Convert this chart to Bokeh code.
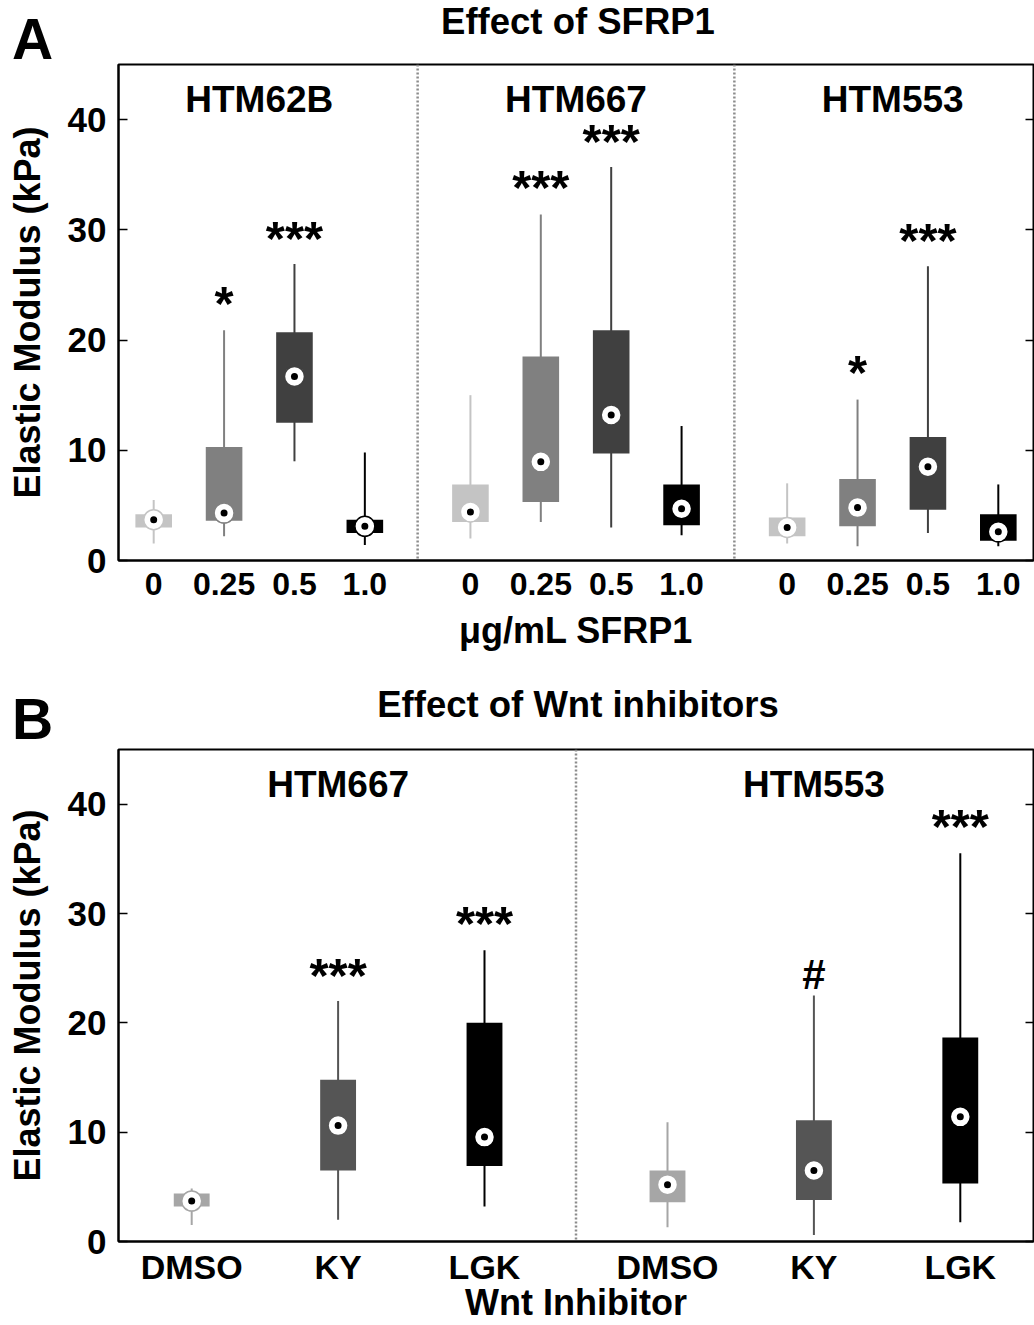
from bokeh.plotting import figure
from bokeh.models import Range1d, FixedTicker, LinearAxis, Span, ColumnDataSource, Div
from bokeh.layouts import column
from bokeh.core.properties import value
from bokeh.embed import file_html
from bokeh.resources import INLINE

FONT = "Liberation Sans"

# ---------------- Panel A data ----------------
a_title = "Effect of SFRP1"
a_groups = ["HTM62B", "HTM667", "HTM553"]
a_doses = ["0", "0.25", "0.5", "1.0"]
a_colors = ["#c4c4c4", "#808080", "#404040", "#000000"]
a_whisk_lo = [1.55, 2.2, 9.0, 1.4, 2.0, 3.5, 3.0, 2.3, 1.55, 1.3, 2.5, 1.3]
a_q1 = [3.0, 3.6, 12.5, 2.5, 3.5, 5.3, 9.7, 3.2, 2.2, 3.1, 4.6, 1.8]
a_median = [3.7, 4.3, 16.7, 3.1, 4.4, 8.95, 13.2, 4.7, 3.0, 4.8, 8.5, 2.6]
a_q3 = [4.2, 10.3, 20.7, 3.7, 6.9, 18.5, 20.9, 6.9, 3.9, 7.4, 11.2, 4.2]
a_whisk_hi = [5.5, 20.9, 26.9, 9.8, 15.0, 31.4, 35.7, 12.2, 7.0, 14.6, 26.7, 6.9]
# significance marks: (group index, dose index, text, y of mark centre)
a_marks = [(0, 1, "*", 23.8), (0, 2, "***", 29.7),
           (1, 1, "***", 34.3), (1, 2, "***", 38.5),
           (2, 1, "*", 17.5), (2, 2, "***", 29.5)]
a_xlabel = "\u03bcg/mL SFRP1"

# ---------------- Panel B data ----------------
b_title = "Effect of Wnt inhibitors"
b_groups = ["HTM667", "HTM553"]
b_treat = ["DMSO", "KY", "LGK"]
b_colors = ["#a6a6a6", "#555555", "#000000"]
b_whisk_lo = [1.5, 2.0, 3.2, 1.3, 0.6, 1.75]
b_q1 = [3.2, 6.5, 6.9, 3.6, 3.8, 5.3]
b_median = [3.7, 10.6, 9.55, 5.2, 6.5, 11.4]
b_q3 = [4.4, 14.8, 20.0, 6.5, 11.1, 18.65]
b_whisk_hi = [4.85, 22.0, 26.65, 10.9, 22.5, 35.5]
b_marks = [(0, 1, "***", 24.8), (0, 2, "***", 29.5),
           (1, 1, "#", 24.4), (1, 2, "***", 38.4)]
b_xlabel = "Wnt Inhibitor"

y_ticks = [0, 10, 20, 30, 40]
YMAX = 45


def overlay_text(text, left, top, size, width=None, center=False):
    inner = ("<div style=\"font-family:'Liberation Sans',Arial,sans-serif;font-weight:bold;"
             "font-size:%spx;line-height:1;color:black;white-space:nowrap;%s\">%s</div>"
             % (size, ("text-align:center;width:%dpx;" % width) if center else "", text))
    styles = {"position": "absolute", "left": "%dpx" % left, "top": "%dpx" % top,
              "z-index": "10", "margin": "0", "padding": "0"}
    return Div(text=inner, styles=styles, margin=0)


def make_panel(groups, cats, colors, lo, q1, med, q3, hi, marks,
               xlabel, group_step, box_w, height, top, bottom,
               xtick_size, xtick_standoff, xlabel_standoff):
    ncat = len(cats)
    xs, labels, cols = [], [], []
    for g in range(len(groups)):
        for i in range(ncat):
            xs.append(g * group_step + i)
            labels.append(cats[i])
            cols.append(colors[i])
    xmin = -0.5
    xmax = (len(groups) - 1) * group_step + ncat - 1 + 0.5
    p = figure(width=1034, height=height, x_range=Range1d(xmin, xmax),
               y_range=Range1d(0, YMAX), output_backend="svg", toolbar_location=None,
               min_border_left=118, min_border_right=1, min_border_top=top,
               min_border_bottom=bottom, background_fill_color="white",
               border_fill_color="white")
    p.outline_line_color = "black"
    p.outline_line_width = 2
    p.xgrid.visible = False
    p.ygrid.visible = False

    # y axis
    ya = p.yaxis[0]
    ya.ticker = FixedTicker(ticks=y_ticks)
    ya.minor_tick_line_color = None
    ya.major_tick_in = 9
    ya.major_tick_out = 0
    ya.major_tick_line_width = 1.5
    ya.axis_line_width = 2
    ya.major_label_text_font = FONT
    ya.major_label_text_font_style = "bold"
    ya.major_label_text_font_size = "35px"
    ya.major_label_text_color = "black"
    ya.major_label_standoff = 12
    ya.axis_label = "Elastic Modulus (kPa)"
    ya.axis_label_text_font = FONT
    ya.axis_label_text_font_style = "bold"
    ya.axis_label_text_font_size = "36px"
    ya.axis_label_text_color = "black"
    ya.axis_label_standoff = 17

    ra = LinearAxis(ticker=FixedTicker(ticks=y_ticks))
    ra.major_label_overrides = {t: "" for t in y_ticks}
    ra.major_label_standoff = 0
    ra.major_tick_in = 8
    ra.major_tick_out = 0
    ra.major_tick_line_width = 1.5
    ra.minor_tick_line_color = None
    ra.axis_line_color = None
    p.add_layout(ra, "right")

    # x axis
    xa = p.xaxis[0]
    xa.ticker = FixedTicker(ticks=xs)
    xa.major_label_overrides = {float(x): l for x, l in zip(xs, labels)}
    xa.minor_tick_line_color = None
    xa.major_tick_line_color = None
    xa.major_tick_in = 0
    xa.major_tick_out = 0
    xa.axis_line_width = 2
    xa.major_label_text_font = FONT
    xa.major_label_text_font_style = "bold"
    xa.major_label_text_font_size = xtick_size
    xa.major_label_text_color = "black"
    xa.major_label_standoff = xtick_standoff
    xa.axis_label = xlabel
    xa.axis_label_text_font = FONT
    xa.axis_label_text_font_style = "bold"
    xa.axis_label_text_font_size = "36px"
    xa.axis_label_text_color = "black"
    xa.axis_label_standoff = xlabel_standoff

    # separators between cell lines
    for g in range(1, len(groups)):
        sep = (g - 1) * group_step + (ncat - 1) + (group_step - (ncat - 1)) / 2
        p.add_layout(Span(location=sep, dimension="height", line_color="#8c8c8c",
                          line_width=2.5, line_dash="2 2"))

    src = ColumnDataSource(dict(x=xs, lo=lo, q1=q1, med=med, q3=q3, hi=hi, c=cols))
    p.segment(x0="x", y0="lo", x1="x", y1="hi", line_color="c", line_width=2, source=src)
    p.vbar(x="x", width=box_w, bottom="q1", top="q3", fill_color="c", line_color=None,
           source=src)
    p.scatter(x="x", y="med", size=20, marker="circle", fill_color="white",
              line_color="c", line_width=1.5, source=src)
    p.scatter(x="x", y="med", size=7, marker="circle", fill_color="black",
              line_color=None, source=src)

    # cell line names
    gx = [g * group_step + (ncat - 1) / 2 for g in range(len(groups))]
    p.text(x=gx, y=[41.8] * len(groups), text=groups, text_font=value(FONT),
           text_font_style="bold", text_font_size="37px", text_align="center",
           text_baseline="middle", text_color="black")

    # significance marks (asterisks sit above the text middle)
    star = [m for m in marks if "*" in m[2]]
    hsh = [m for m in marks if "*" not in m[2]]
    p.text(x=[m[0] * group_step + m[1] for m in star], y=[m[3] - 0.4 for m in star],
           text=[m[2] for m in star], text_font=value(FONT), text_font_style="bold",
           text_font_size="49px", text_align="center", text_baseline="middle",
           text_color="black")
    if hsh:
        p.text(x=[m[0] * group_step + m[1] for m in hsh], y=[m[3] for m in hsh],
               text=[m[2] for m in hsh], text_font=value(FONT), text_font_style="bold",
               text_font_size="42px", text_align="center", text_baseline="middle",
               text_color="black")
    return p


pa = make_panel(a_groups, a_doses, a_colors, a_whisk_lo, a_q1, a_median,
                a_q3, a_whisk_hi, a_marks, a_xlabel, 4.5, 0.52, 668, 64, 108,
                "32px", 12, 12)
pb = make_panel(b_groups, b_treat, b_colors, b_whisk_lo, b_q1, b_median,
                b_q3, b_whisk_hi, b_marks, b_xlabel, 3.25, 0.245, 657, 81, 82,
                "34px", 6, -7)

letter_a = overlay_text("A", 12, 11, 57)
title_a = overlay_text(a_title, 328, 4, 36.5, width=500, center=True)
letter_b = overlay_text("B", 12, 691, 57)
title_b = overlay_text(b_title, 328, 687, 36.5, width=500, center=True)

layout = column(letter_a, title_a, letter_b, title_b, pa, pb, spacing=0)
open("out.html", "w").write(file_html(layout, INLINE))
